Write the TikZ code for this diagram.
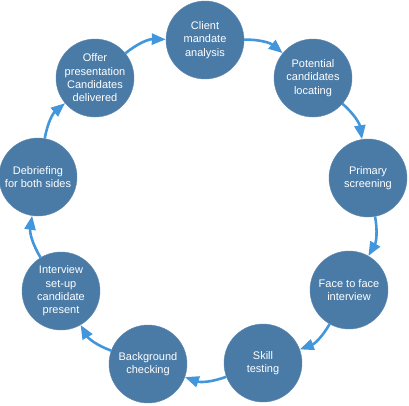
\documentclass[tikz,border=0pt]{standalone}
\usepackage{fontspec}
\setmainfont{Liberation Sans}
\usetikzlibrary{arrows.meta}
\definecolor{stepfill}{RGB}{74,123,167}
\definecolor{flowblue}{RGB}{66,150,220}
\tikzset{stage/.style={circle, fill=stepfill, draw=stepfill!90!white, minimum size=78pt, inner sep=0pt, align=center, text=white, font=\fontsize{11}{13.3}\selectfont}, flow/.style={draw=flowblue, line width=2.6pt, -{Triangle[length=14pt,width=11pt]}, bend left=20}}
\begin{document}
\begin{tikzpicture}[x=1pt,y=1pt]
                 \useasboundingbox (0,0) rectangle (409,-405);

                 \node[stage] (client) at (205,-40) {Client\\mandate\\analysis};
                 \node[stage] (potential) at (313,-78) {Potential\\candidates\\locating};
                 \node[stage] (primary) at (368,-178) {Primary\\screening};
                 \node[stage] (face) at (349,-290) {Face to face\\interview};
                 \node[stage] (skill) at (263,-363) {Skill\\testing};
                 \node[stage] (background) at (148,-364) {Background\\checking};
                 \node[stage] (interview) at (61,-291) {Interview\\set-up\\candidate\\present};
                 \node[stage] (debrief) at (38,-177) {Debriefing\\for both sides};
                 \node[stage] (offer) at (95,-78) {Offer\\presentation\\Candidates\\delivered};

                 \draw[flow] (client) to (potential);
                 \draw[flow] (potential) to (primary);
                 \draw[flow] (primary) to (face);
                 \draw[flow] (face) to (skill);
                 \draw[flow] (skill) to (background);
                 \draw[flow] (background) to (interview);
                 \draw[flow] (interview) to (debrief);
                 \draw[flow] (debrief) to (offer);
                 \draw[flow] (offer) to (client);
             \end{tikzpicture}
\end{document}
